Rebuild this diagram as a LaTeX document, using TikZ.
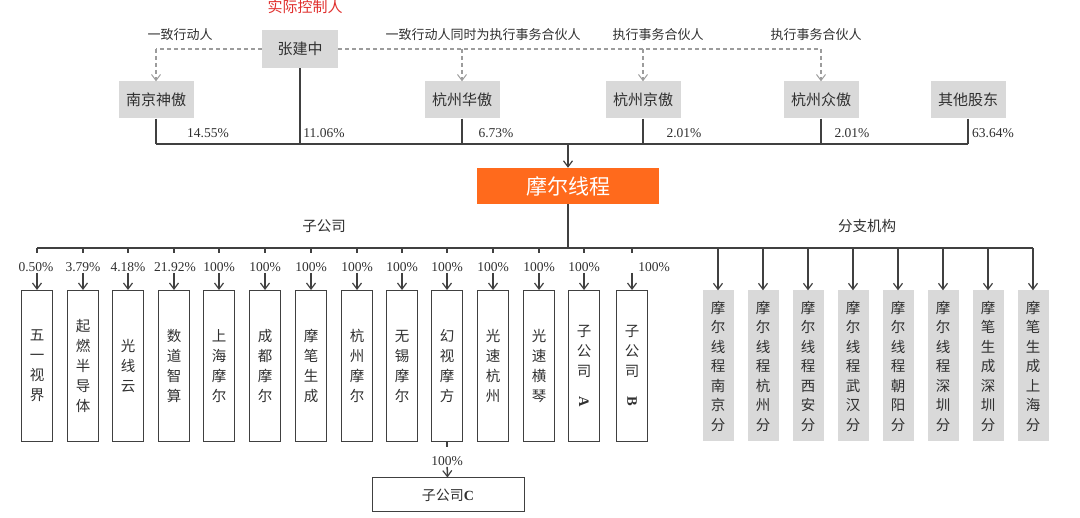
\documentclass[tikz,border=0pt]{standalone}
\usepackage{fontspec}
\setmainfont{Liberation Serif}
\newfontfamily\cjk{Noto Sans CJK SC}
\usetikzlibrary{arrows.meta}
\usetikzlibrary{positioning}

\definecolor{boxgray}{HTML}{D9D9D9}
\definecolor{linegray}{HTML}{404040}
\definecolor{dashgray}{HTML}{9C9C9C}
\definecolor{mooreorange}{HTML}{FF6A1C}
\definecolor{ctrlred}{HTML}{E0302E}
\definecolor{txtgray}{HTML}{303030}

\tikzset{
  holder/.style={fill=boxgray, minimum width=75pt, minimum height=37pt, inner sep=0pt,
    font=\cjk\fontsize{15}{17}\selectfont, text=txtgray},
  subbox/.style={draw=linegray, line width=1pt, minimum width=31pt, minimum height=151pt,
    inner sep=0pt, align=center, font=\cjk\fontsize{14.5}{20}\selectfont, text=txtgray},
  branchbox/.style={fill=boxgray, minimum width=31pt, minimum height=151pt,
    inner sep=0pt, align=center, font=\cjk\fontsize{14.5}{19.5}\selectfont, text=txtgray},
  pct/.style={font=\fontsize{13.5}{15}\selectfont, text=txtgray, inner sep=1pt},
  role/.style={font=\cjk\fontsize{13}{15}\selectfont, text=txtgray},
  own/.style={draw=linegray, line width=1.5pt},
  ownarrow/.style={own, -{Straight Barb[length=6pt,width=9pt,line width=1.2pt]}},
  actlink/.style={draw=dashgray, line width=1.2pt, dash pattern=on 4pt off 3pt},
  actarrow/.style={actlink, -{Straight Barb[length=6pt,width=9pt,line width=1pt]}},
}

\begin{document}
\begin{tikzpicture}[x=1pt,y=-1pt]
\useasboundingbox (0,0) rectangle (1080,518);

% shareholders
\node[font=\cjk\fontsize{15}{17}\selectfont, text=ctrlred] (ctrl) at (305,7) {实际控制人};
\node[holder, minimum width=76pt, minimum height=38pt] (zjz) at (300,49) {张建中};
\node[holder] (nj) at (156,100) {南京神傲};
\node[holder] (hh) at (462,100) {杭州华傲};
\node[holder] (hj) at (643,100) {杭州京傲};
\node[holder] (hz) at (821,100) {杭州众傲};
\node[holder] (qt) at (968,100) {其他股东};

\node[role] (r1) at (180,35) {一致行动人};
\node[role] (r2) at (483,35) {一致行动人同时为执行事务合伙人};
\node[role] (r3) at (658,35) {执行事务合伙人};
\node[role] (r4) at (816,35) {执行事务合伙人};

% acting in concert
\draw[actlink] (zjz.west) -- (nj |- zjz);
\draw[actarrow] (nj |- zjz) -- (nj.north);
\draw[actlink] (zjz.east) -- (hz |- zjz);
\draw[actarrow] (hh |- zjz) -- (hh.north);
\draw[actarrow] (hj |- zjz) -- (hj.north);
\draw[actarrow] (hz |- zjz) -- (hz.north);

% shareholding
\coordinate (topbus) at (568,144);
\node[fill=mooreorange, minimum width=182pt, minimum height=36pt, inner sep=0pt,
  text=white, font=\cjk\fontsize{21}{23}\selectfont] (moore) at (568,186) {摩尔线程};
\draw[own] (nj.south) -- (nj.south |- topbus);
\draw[own] (zjz.south) -- (zjz.south |- topbus);
\draw[own] (hh.south) -- (hh.south |- topbus);
\draw[own] (hj.south) -- (hj.south |- topbus);
\draw[own] (hz.south) -- (hz.south |- topbus);
\draw[own] (qt.south) -- (qt.south |- topbus);
\draw[own] (nj.south |- topbus) -- (qt.south |- topbus);
\draw[ownarrow] (topbus) -- (moore.north);

\node[pct] (pnj) at (208,133) {14.55\%};
\node[pct] (pzjz) at (324,133) {11.06\%};
\node[pct] (phh) at (496,133) {6.73\%};
\node[pct] (phj) at (684,133) {2.01\%};
\node[pct] (phz) at (852,133) {2.01\%};
\node[pct] (pqt) at (993,133) {63.64\%};

% subsidiaries
\node[role, font=\cjk\fontsize{14.5}{16}\selectfont] (subttl) at (324,226) {子公司};
\foreach \x/\lx/\p/\n/\t in {
  37/36/0.50/wysj/{五\\一\\视\\界},
  83/83/3.79/qrbd/{起\\燃\\半\\导\\体},
  128/128/4.18/gxy/{光\\线\\云},
  174/175/21.92/sdzs/{数\\道\\智\\算},
  219/219/100/shme/{上\\海\\摩\\尔},
  265/265/100/cdme/{成\\都\\摩\\尔},
  311/311/100/mbsc/{摩\\笔\\生\\成},
  357/357/100/hzme/{杭\\州\\摩\\尔},
  402/402/100/wxme/{无\\锡\\摩\\尔},
  447/447/100/hsmf/{幻\\视\\摩\\方},
  493/493/100/gshz/{光\\速\\杭\\州},
  539/539/100/gshq/{光\\速\\横\\琴},
  584/584/100/zgsa/{子\\公\\司\\\rotatebox{-90}{\rmfamily\bfseries A}},
  632/654/100/zgsb/{子\\公\\司\\\rotatebox{-90}{\rmfamily\bfseries B}}}
{
  \coordinate (t\n) at (\x,248);
  \node[subbox] (\n) at (\x,366) {\t};
  \node[pct] (p\n) at (\lx,267) {\p\%};
  \draw[own] (t\n) -- ++(0,5);
  \draw[ownarrow] (\n |- p\n.south) -- (\n.north);
}

\node[draw=linegray, line width=1pt, minimum width=152pt, minimum height=34pt, inner sep=0pt,
  font=\cjk\fontsize{14}{16}\selectfont, text=txtgray] (zgsc) at (448,495) {子公司{\rmfamily\bfseries C}};
\node[pct] (pzgsc) at (447,461) {100\%};
\draw[own] (hsmf.south) -- ++(0,5);
\draw[ownarrow] (pzgsc) -- (zgsc);

% branches
\node[role, font=\cjk\fontsize{14.5}{16}\selectfont] (brttl) at (867,226) {分支机构};
\foreach \x/\n/\t in {
  718/njf/{摩\\尔\\线\\程\\南\\京\\分},
  763/hzf/{摩\\尔\\线\\程\\杭\\州\\分},
  808/xaf/{摩\\尔\\线\\程\\西\\安\\分},
  853/whf/{摩\\尔\\线\\程\\武\\汉\\分},
  898/cyf/{摩\\尔\\线\\程\\朝\\阳\\分},
  943/szf/{摩\\尔\\线\\程\\深\\圳\\分},
  988/mszf/{摩\\笔\\生\\成\\深\\圳\\分},
  1033/mshf/{摩\\笔\\生\\成\\上\\海\\分}}
{
  \coordinate (b\n) at (\x,248);
  \node[branchbox] (\n) at (\x,366) {\t};
  \draw[ownarrow] (b\n) -- (\n.north);
}

\draw[own] (twysj) -- (bmshf);
\draw[own] (moore.south) -- (moore.south |- twysj);

\end{tikzpicture}
\end{document}
